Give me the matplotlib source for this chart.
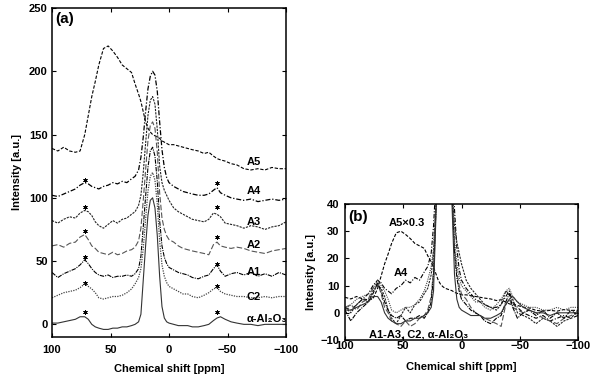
import numpy as np
import matplotlib
matplotlib.use("Agg")
import matplotlib.pyplot as plt

plt.rcParams['font.family'] = ['Liberation Sans', 'DejaVu Sans']
plt.rcParams['font.weight'] = 'bold'

# chemical shift grid [ppm]
ppm = [100, 95, 90, 85, 80, 76, 72, 69, 66, 63, 60, 56, 52, 48, 44, 40, 36, 32, 29, 26,
       24, 22, 20, 18, 16, 14, 12, 10, 8, 6, 4, 2, 0, -4, -8, -12, -16, -20, -25, -30,
       -34, -38, -41, -44, -48, -53, -58, -64, -70, -76, -82, -88, -94, -100]

# baseline-corrected spectra
a5 = [19, 17, 20, 17, 16, 17, 30, 45, 60, 72, 85, 98, 100, 96, 91, 85, 82, 79, 70, 62,
      56, 48, 40, 35, 32, 30, 29, 28, 27, 25, 24, 23, 22, 22, 21, 20, 19, 18, 17, 15,
      16, 13, 11, 10, 9, 7, 6, 3, 2, 3, 2, 4, 3, 3]
a4 = [2, 1, 3, 5, 7, 10, 12, 11, 9, 8, 7, 9, 10, 12, 11, 13, 12, 15, 17, 22,
      32, 48, 68, 86, 96, 100, 97, 84, 60, 38, 24, 16, 12, 9, 7, 5, 4, 3, 2, 2,
      3, 6, 8, 4, 2, 0, -1, -2, -1, -3, -2, -1, -2, -1]
a3 = [2, 0, 3, 5, 4, 8, 10, 9, 6, 1, -2, -4, -1, 2, 0, 3, 4, 7, 9, 14,
      22, 40, 63, 85, 97, 100, 94, 74, 45, 32, 26, 22, 18, 12, 9, 7, 5, 3, 2, 1,
      3, 8, 7, 5, 0, -1, -2, -4, -2, -3, -5, -3, -2, 1]
a2 = [2, 3, 1, 4, 5, 9, 11, 7, 2, 0, -3, -4, -5, -3, -5, -4, -2, -1, 1, 6,
      16, 38, 62, 85, 97, 100, 95, 76, 44, 24, 15, 10, 7, 5, 2, 0, -1, -2, -3, -4,
      -5, 3, 5, 2, 1, 0, 1, 0, -2, -3, -4, -2, -1, 0]
a1 = [1, -3, 0, 2, 4, 7, 11, 8, 4, 1, -1, -2, -1, -3, -2, -2, -1, -2, 0, 4,
      14, 37, 61, 84, 97, 100, 93, 73, 42, 22, 13, 8, 5, 3, 1, 0, -1, -3, -4, -2,
      -1, 4, 7, 2, -2, 0, 1, -1, 1, -2, 0, -2, 1, -1]
c2 = [1, 3, 5, 6, 7, 9, 12, 10, 8, 5, 1, 0, 1, 2, 2, 3, 5, 8, 12, 17,
      24, 40, 63, 85, 97, 100, 94, 75, 46, 27, 18, 13, 10, 8, 6, 4, 4, 2, 1, 3,
      5, 8, 9, 6, 4, 3, 2, 2, 1, 1, 2, 1, 2, 2]
al2o3 = [1, 1, 2, 3, 4, 6, 6, 4, 0, -2, -3, -4, -4, -3, -3, -2, -2, -1, 0, 2,
         8, 35, 62, 86, 98, 100, 92, 70, 38, 14, 5, 2, 1, 0, -1, -1, -1, -2, -2, -1,
         0, 3, 5, 6, 4, 2, 1, 0, 0, -1, 0, 0, 0, 0]

names = ['A5', 'A4', 'A3', 'A2', 'A1', 'C2', 'α-Al₂O₃']
spectra = [a5, a4, a3, a2, a1, c2, al2o3]
offsets = [120, 100, 80, 60, 40, 20, 0]
label_y = [128, 105, 81, 63, 41, 22, 4]
a5_scale = 0.3

# spinning sidebands (asterisks)
star_x = [72, 72, 72, 72, 72, 72, -41, -41, -41, -41, -41, -41]
star_y = [114, 93, 74, 53.5, 33, 10, 112, 92.5, 69, 48, 30, 10]

styles = [
    dict(color='black', ls=(0, (3, 1.5)), lw=0.8),
    dict(color='black', ls=(0, (4, 1.5, 1, 1.5)), lw=0.9),
    dict(color='#222222', ls=(0, (2, 1)), lw=0.8),
    dict(color='#555555', ls=(0, (5, 2)), lw=0.8),
    dict(color='black', ls=(0, (4, 1, 1, 1)), lw=0.8),
    dict(color='#444444', ls=(0, (1, 1)), lw=0.9),
    dict(color='#333333', ls='-', lw=0.8),
]

fig = plt.figure(figsize=(6, 3.85), dpi=100)
ax1 = fig.add_axes([52 / 600, 48 / 385, 234 / 600, 329 / 385])
ax2 = fig.add_axes([345 / 600, 45 / 385, 233 / 600, 136 / 385])

x = np.array(ppm)
for name, s, off, ly, st in zip(names, spectra, offsets, label_y, styles):
    ax1.plot(x, np.array(s) + off, **st)
    ax1.text(-66, ly, name, fontsize=8, fontweight='bold', va='center', ha='left')
ax1.scatter(star_x, star_y, marker=(6, 2, 0), s=8, color='black', linewidths=0.6)

for name, s, st in zip(names, spectra, styles):
    y = np.array(s, dtype=float)
    if name == 'A5':
        y = y * a5_scale
    ax2.plot(x, y, color=st['color'], ls=st['ls'], lw=0.8)

ax2.text(47, 33, 'A5×0.3', fontsize=8, fontweight='bold', ha='center', va='center')
ax2.text(52, 14.6, 'A4', fontsize=8, fontweight='bold', ha='center', va='center')
ax2.text(37, -7.8, 'A1-A3, C2, α-Al₂O₃', fontsize=8, fontweight='bold',
         ha='center', va='center')

ax1.set_xlim(100, -100)
ax1.set_ylim(-10, 250)
ax1.set_xticks([100, 50, 0, -50, -100])
ax1.set_yticks([0, 50, 100, 150, 200, 250])
ax2.set_xlim(100, -100)
ax2.set_ylim(-10, 40)
ax2.set_xticks([100, 50, 0, -50, -100])
ax2.set_yticks([-10, 0, 10, 20, 30, 40])

ax1.text(0.015, 0.988, '(a)', transform=ax1.transAxes, fontsize=11,
         fontweight='bold', ha='left', va='top')
ax2.text(0.012, 0.955, '(b)', transform=ax2.transAxes, fontsize=11,
         fontweight='bold', ha='left', va='top')

for ax in (ax1, ax2):
    ax.tick_params(direction='in', top=True, right=True, length=3, width=0.8,
                   labelsize=8)
    for sp in ax.spines.values():
        sp.set_linewidth(1.1)
    for lab in ax.get_xticklabels() + ax.get_yticklabels():
        lab.set_fontweight('bold')
    ax.set_xlabel('Chemical shift [ppm]', fontsize=8, fontweight='bold')
    ax.set_ylabel('Intensity [a.u.]', fontsize=8, fontweight='bold')

ax1.tick_params(axis='x', pad=6)
ax1.tick_params(axis='y', pad=3)
ax1.xaxis.labelpad = 6
ax1.yaxis.labelpad = 5
ax2.tick_params(axis='x', pad=1)
ax2.tick_params(axis='y', pad=4)
ax2.xaxis.labelpad = 8
ax2.yaxis.labelpad = 3

fig.savefig('out.png', dpi=100)
